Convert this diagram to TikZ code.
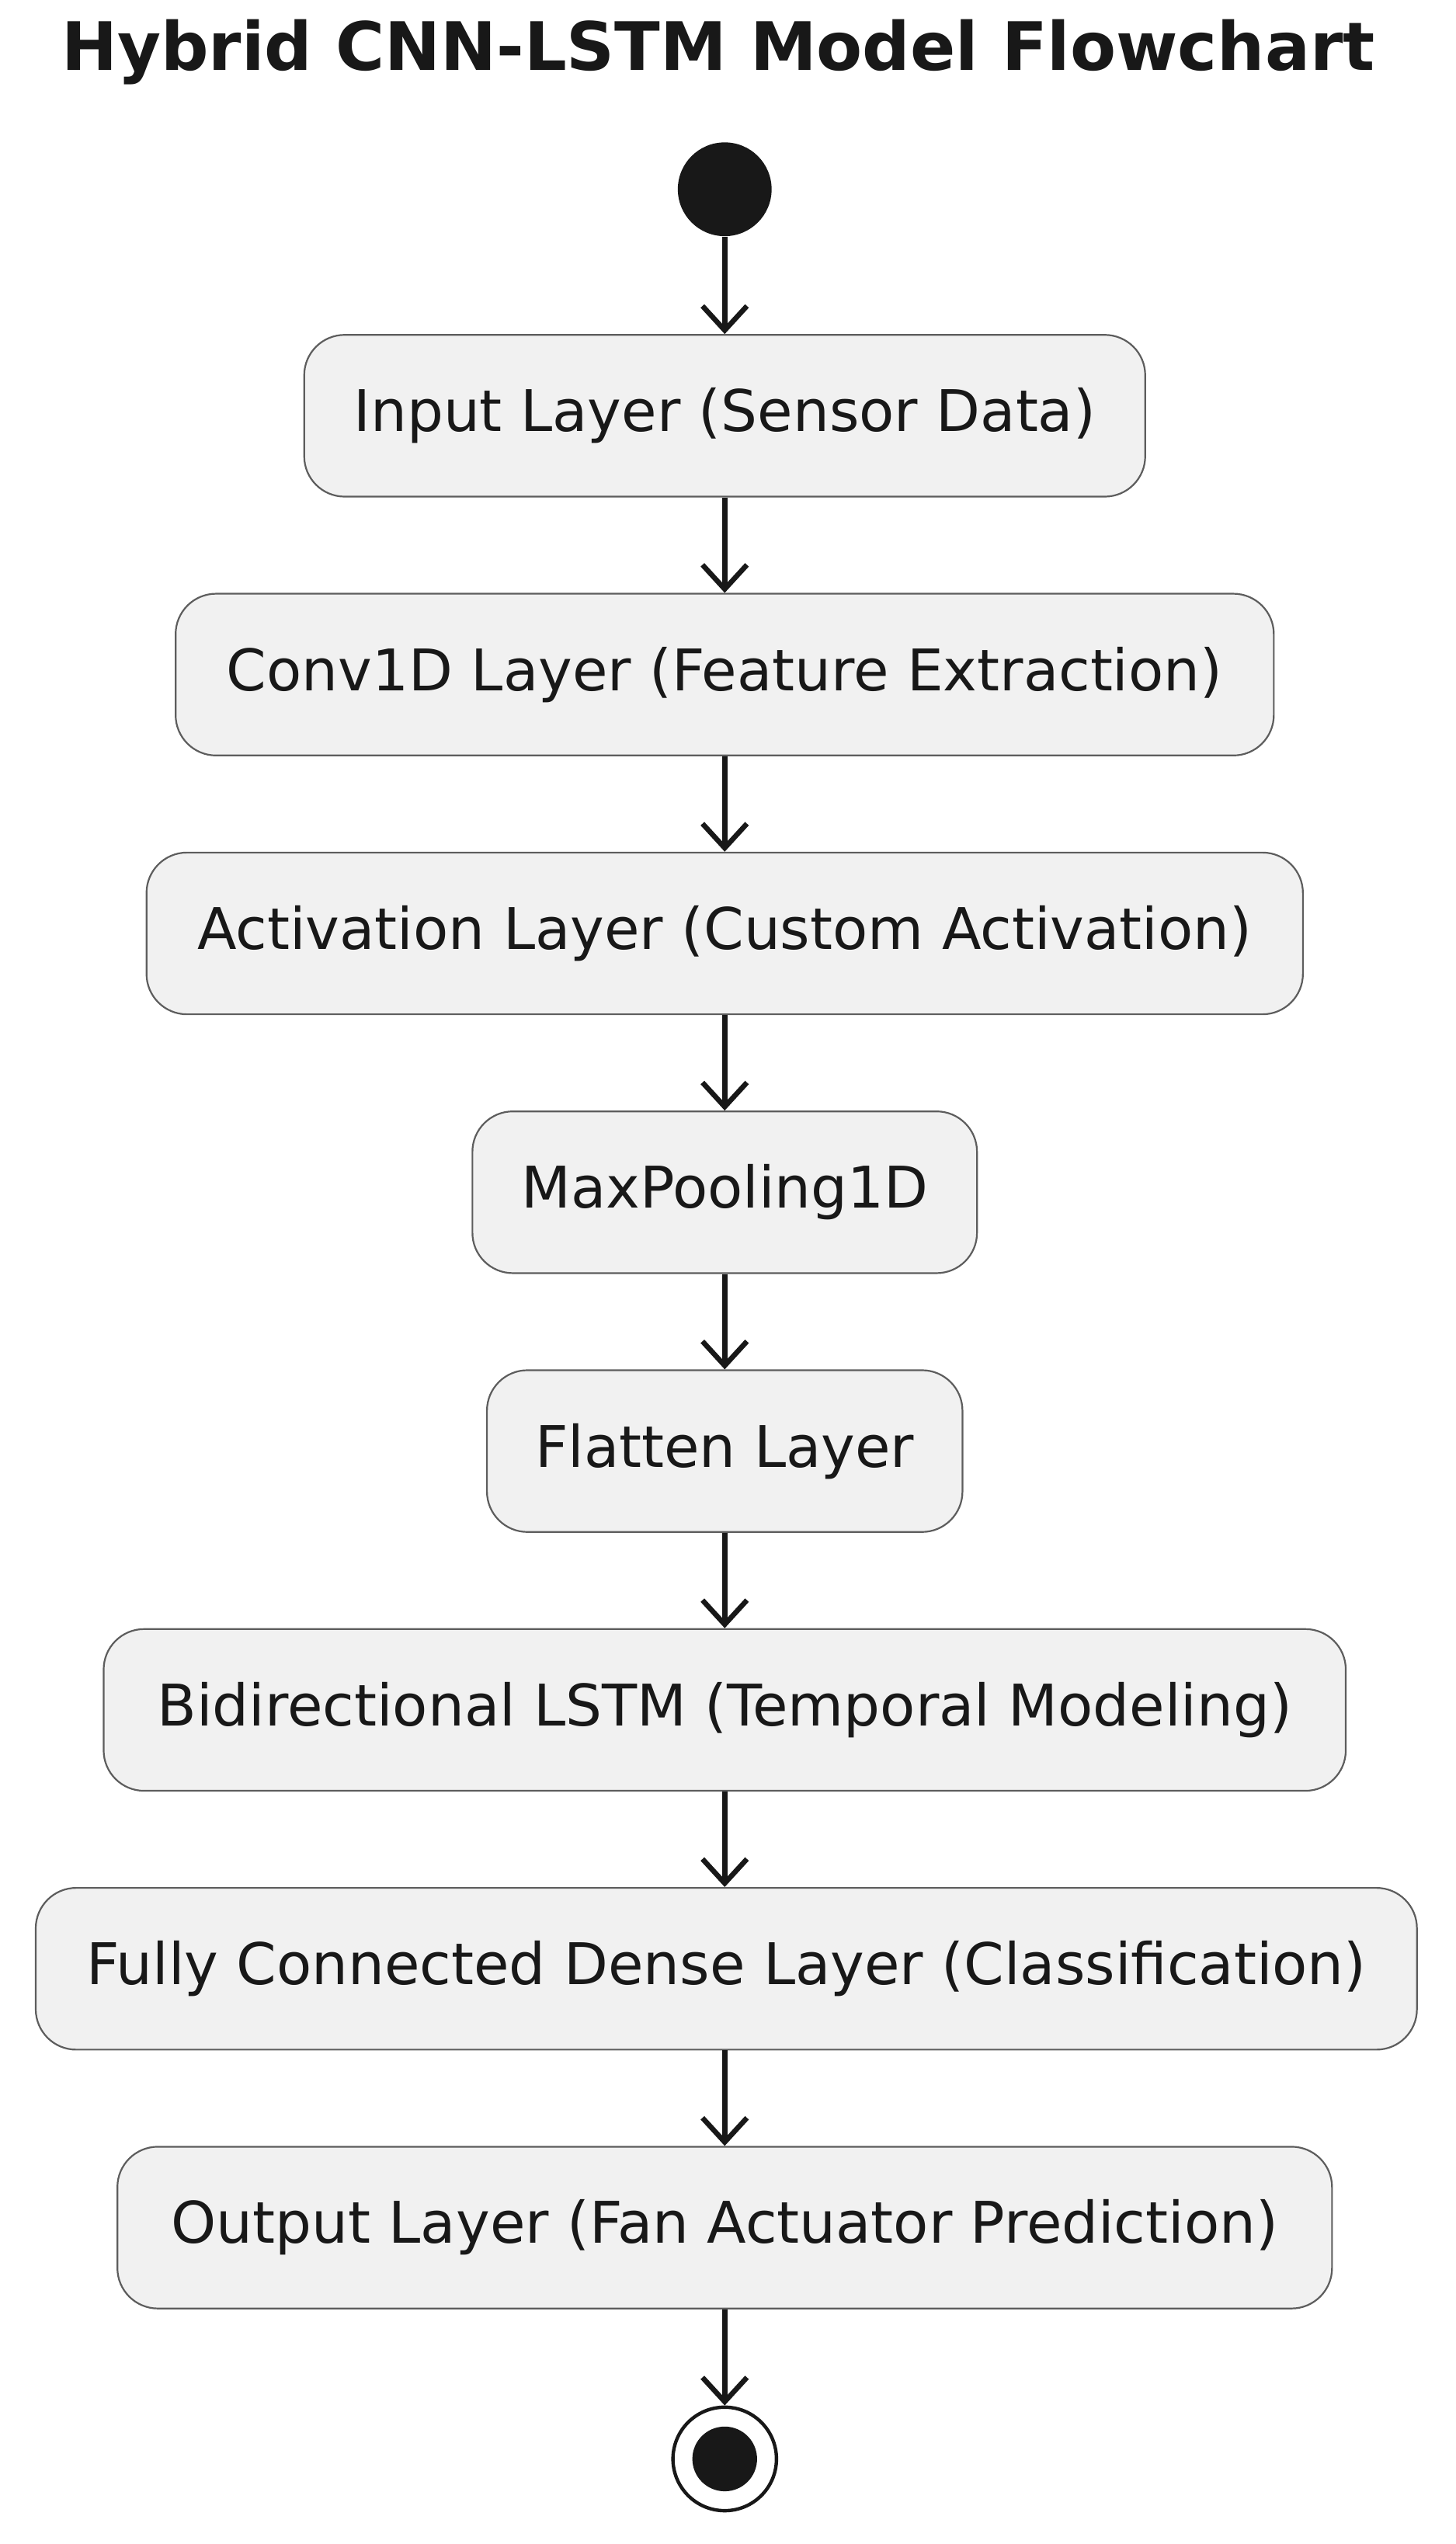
\documentclass[tikz,border=0pt]{standalone}
\usepackage{fontspec}
\setmainfont{DejaVu Sans}
\usetikzlibrary{arrows.meta}
\definecolor{bx}{HTML}{F1F1F1}
\definecolor{ln}{HTML}{181818}
\begin{document}
\begin{tikzpicture}[x=0.02cm,y=-0.02cm,
 box/.style={draw=ln!70,line width=0.6pt,fill=bx,rounded corners=0.5cm,minimum height=2cm,inner sep=0pt,font=\fontsize{20.2pt}{23pt}\selectfont,text=ln},
 arr/.style={draw=ln,line width=1.8pt,-{Straight Barb[length=0.3cm,width=0.55cm,line width=1.8pt]}}]
\useasboundingbox (0,0) rectangle (900,1572.6);
\node[font=\bfseries\fontsize{23.5pt}{26pt}\selectfont,text=ln] (title) at (444,32) {Hybrid CNN-LSTM Model Flowchart};
\node[circle,fill=ln,minimum size=1.16cm,inner sep=0pt] (s) at (448,117) {};
\node[box,minimum width=10.4cm] (b1) at (448,257) {Input Layer (Sensor Data)};
\node[box,minimum width=13.58cm] (b2) at (448,417) {Conv1D Layer (Feature Extraction)};
\node[box,minimum width=14.3cm] (b3) at (448,577) {Activation Layer (Custom Activation)};
\node[box,minimum width=6.24cm] (b4) at (448,737) {MaxPooling1D};
\node[box,minimum width=5.88cm] (b5) at (448,897) {Flatten Layer};
\node[box,minimum width=15.36cm] (b6) at (448,1057) {Bidirectional LSTM (Temporal Modeling)};
\node[box,minimum width=17.08cm] (b7) at (449,1217) {Fully Connected Dense Layer (Classification)};
\node[box,minimum width=15.02cm] (b8) at (448,1377) {Output Layer (Fan Actuator Prediction)};
\node[circle,draw=ln,line width=1.2pt,fill=white,minimum size=1.28cm,inner sep=0pt] (e) at (448,1520) {};
\node[circle,fill=ln,minimum size=0.8cm,inner sep=0pt] at (e) {};
\draw[arr] (s) -- (b1);
\draw[arr] (b1) -- (b2);
\draw[arr] (b2) -- (b3);
\draw[arr] (b3) -- (b4);
\draw[arr] (b4) -- (b5);
\draw[arr] (b5) -- (b6);
\draw[arr] (b6.south) -- (b6.south|-b7.north);
\draw[arr] (b7.south-|b8.north) -- (b8.north);
\draw[arr] (b8) -- (e);
\end{tikzpicture}
\end{document}
